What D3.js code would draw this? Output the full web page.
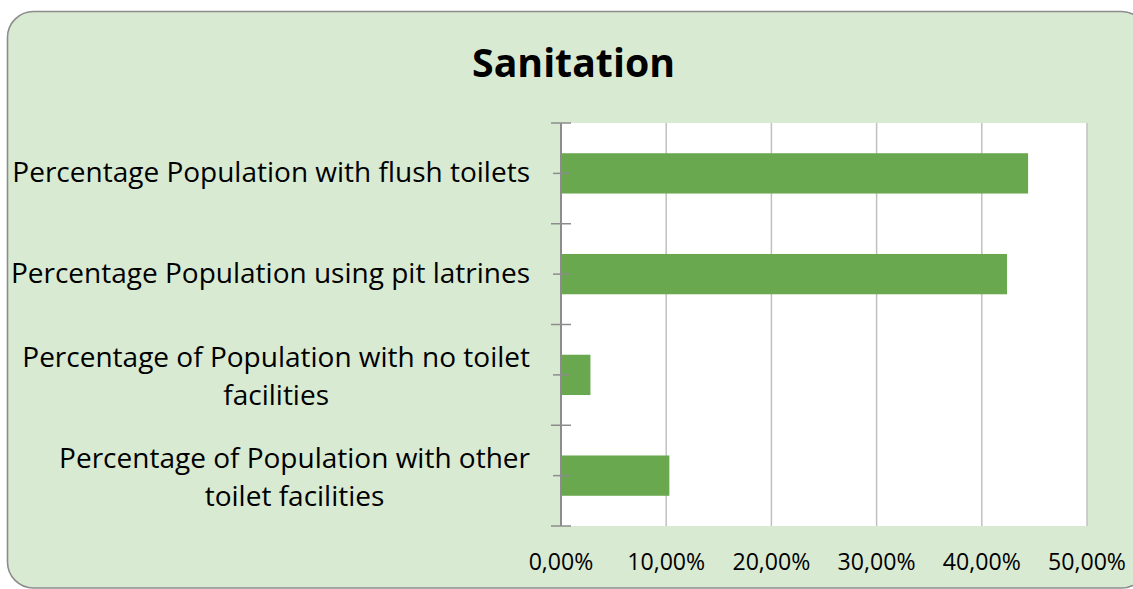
<!DOCTYPE html>
<html><head><meta charset="utf-8">
<script src="https://cdn.jsdelivr.net/npm/d3@7/dist/d3.min.js"></script>
<style>html,body{margin:0;padding:0;background:#fff;overflow:hidden}svg{display:block}</style>
</head><body>
<svg id="c" width="1133" height="589"></svg>
<script>
const title = "Sanitation";
const categories = [
  "Percentage Population with flush toilets",
  "Percentage Population using pit latrines",
  "Percentage of Population with no toilet facilities",
  "Percentage of Population with other toilet facilities"
];
const values = [0.444, 0.424, 0.028, 0.103];
const tickValues = [0, 0.1, 0.2, 0.3, 0.4, 0.5];

const FONT = "'Open Sans', 'Noto Sans', sans-serif";
const svg = d3.select("#c");

svg.append("rect").attr("x", 7.5).attr("y", 11.5).attr("width", 1140).attr("height", 576.5)
  .attr("rx", 26).attr("ry", 26).attr("fill", "#d9ead3").attr("stroke", "#8c8c8c").attr("stroke-width", 1.6);

const m = {left: 561, right: 1087, top: 123, bottom: 526};
const x = d3.scaleLinear().domain([0, 0.5]).range([m.left, m.right]);
const y = d3.scaleBand().domain(categories).range([m.top, m.bottom]).paddingInner(0.6).paddingOuter(0.3);
const yb = d3.scaleBand().domain(categories).range([m.top, m.bottom]);

function fitSize(text, weight, targetW) {
  const t = svg.append("text").style("font-family", FONT).style("font-weight", weight).style("font-size", "100px").text(text);
  const w = t.node().getComputedTextLength(); t.remove();
  return 100 * targetW / w;
}

svg.append("rect").attr("x", m.left).attr("y", m.top).attr("width", m.right - m.left).attr("height", m.bottom - m.top).attr("fill", "#fff");

svg.append("g").selectAll("line").data(tickValues.slice(1)).join("line")
  .attr("x1", d => x(d)).attr("x2", d => x(d)).attr("y1", m.top).attr("y2", m.bottom)
  .attr("stroke", "#c0c0c0").attr("stroke-width", 1.5);

svg.append("g").selectAll("rect").data(categories).join("rect")
  .attr("x", x(0)).attr("y", d => y(d)).attr("height", y.bandwidth())
  .attr("width", (d, i) => x(values[i]) - x(0)).attr("fill", "#6aa84f");

const ax = svg.append("g").attr("stroke", "#8c8c8c");
ax.append("line").attr("x1", m.left).attr("x2", m.left).attr("y1", m.top).attr("y2", m.bottom).attr("stroke-width", 2);
const bounds = categories.map(c => yb(c)).concat([m.bottom]);
ax.selectAll("line.maj").data(bounds).join("line").attr("class", "maj")
  .attr("x1", m.left - 10).attr("x2", m.left + 10).attr("y1", d => d).attr("y2", d => d).attr("stroke-width", 1.5);
ax.selectAll("line.min").data(categories).join("line").attr("class", "min")
  .attr("x1", m.left - 8).attr("x2", m.left + 8).attr("y1", d => yb(d) + yb.bandwidth() / 2).attr("y2", d => yb(d) + yb.bandwidth() / 2).attr("stroke-width", 1.5);

const tSize = fitSize(title, "bold", 203);
svg.append("text").attr("x", 573.5).attr("y", 77).attr("text-anchor", "middle")
  .style("font-family", FONT).style("font-weight", "bold").style("font-size", tSize + "px").attr("fill", "#000").text(title);

const tkSize = fitSize("50,00%", "normal", 78);
const fmt = d => (d * 100).toFixed(2).replace(".", ",") + "%";
svg.append("g").selectAll("text").data(tickValues).join("text")
  .attr("x", d => x(d)).attr("y", 570).attr("text-anchor", "middle")
  .style("font-family", FONT).style("font-size", tkSize + "px").attr("fill", "#000").text(fmt);

const lSize = fitSize(categories[0], "normal", 518);
const maxW = 522;
function measure(s) {
  const t = svg.append("text").style("font-family", FONT).style("font-size", lSize + "px").text(s);
  const w = t.node().getComputedTextLength(); t.remove(); return w;
}
function wrap(s) {
  const words = s.split(" "); const lines = []; let cur = "";
  words.forEach(wd => {
    const test = cur ? cur + " " + wd : wd;
    if (measure(test) > maxW && cur) { lines.push(cur); cur = wd; } else cur = test;
  });
  lines.push(cur); return lines;
}
const labelRight = 530;
categories.forEach(c => {
  const lines = wrap(c);
  const cy = yb(c) + yb.bandwidth() / 2;
  const widest = d3.max(lines, measure);
  const cx = labelRight - widest / 2;
  const lh = 38;
  lines.forEach((ln, i) => {
    const base = lines.length === 1 ? cy + 9 : cy - 8 + i * lh;
    svg.append("text").attr("x", cx).attr("y", base).attr("text-anchor", "middle")
      .style("font-family", FONT).style("font-size", lSize + "px").attr("fill", "#000").text(ln);
  });
});
</script>
</body></html>
